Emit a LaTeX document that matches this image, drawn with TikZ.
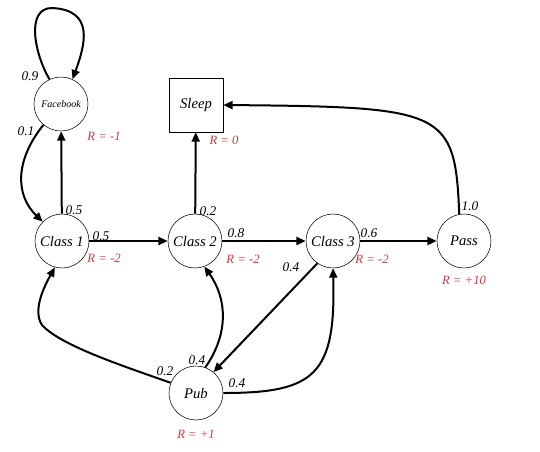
\documentclass[tikz,border=0pt]{standalone}
\usepackage{fontspec}
\setmainfont{Liberation Serif}
\usetikzlibrary{arrows.meta}
\definecolor{rred}{RGB}{200,60,60}
\begin{document}
\begin{tikzpicture}[x=0.75pt,y=-0.75pt,
  state/.style={circle,draw,thin,minimum size=40.5pt,inner sep=0pt,font=\fontsize{11}{13}\selectfont\itshape},
  sq/.style={rectangle,draw,thin,minimum size=40.5pt,inner sep=0pt,font=\fontsize{11}{13}\selectfont\itshape},
  arr/.style={line width=1.5pt,-{Triangle[length=7pt,width=6pt]}},
  prob/.style={font=\fontsize{10}{12}\selectfont\itshape,inner sep=0pt},
  rew/.style={font=\fontsize{9.5}{11}\selectfont\itshape,text=rred,inner sep=0pt}]
\useasboundingbox (0,0) rectangle (540,451);
\node[state,font=\fontsize{7.5}{9}\selectfont\itshape] (fb) at (61,104) {Facebook};
\node[sq] (sleep) at (196,105) {Sleep};
\node[state] (c1) at (62,241) {Class 1};
\node[state] (c2) at (195,241) {Class 2};
\node[state] (c3) at (333,241) {Class 3};
\node[state] (pass) at (464,241) {Pass};
\node[state] (pub) at (196,393) {Pub};
% edges
\draw[arr] (fb.115) .. controls (35,55) and (25,8) .. (52,8) .. controls (95,10) and (85,45) .. (fb.65);
\draw[arr] (fb.230) .. controls (15,160) and (15,195) .. (c1.135);
\draw[arr] (c1) -- (fb);
\draw[arr] (c1) -- (c2);
\draw[arr] (c2) -- (sleep);
\draw[arr] (c2) -- (c3);
\draw[arr] (c3) -- (pass);
\draw[arr] (c3.235) -- (pub.50);
\draw[arr] (pass.100) .. controls (455,110) and (445,107) .. (sleep.east);
\draw[arr] (pub.158) .. controls (120,365) and (60,345) .. (42,325) .. controls (32,310) and (45,285) .. (c1.255);
\draw[arr] (pub.70) .. controls (228,335) and (228,300) .. (c2.290);
\draw[arr] (pub.east) .. controls (315,393) and (336,375) .. (c3.270);
% probabilities
\node[prob] (p1) at (30,76) {0.9};
\node[prob] (p2) at (26,131) {0.1};
\node[prob] (p3) at (74,210) {0.5};
\node[prob] (p4) at (101,236) {0.5};
\node[prob] (p5) at (208,211) {0.2};
\node[prob] (p6) at (236,233) {0.8};
\node[prob] (p7) at (369,233) {0.6};
\node[prob] (p8) at (291,267) {0.4};
\node[prob] (p9) at (470,206) {1.0};
\node[prob] (p10) at (165,371) {0.2};
\node[prob] (p11) at (197,360) {0.4};
\node[prob] (p12) at (237,383) {0.4};
% rewards
\node[rew] (r1) at (104,136) {R = -1};
\node[rew] (r2) at (104,258) {R = -2};
\node[rew] (r3) at (243,259) {R = -2};
\node[rew] (r4) at (224,140) {R = 0};
\node[rew] (r5) at (372,259) {R = -2};
\node[rew] (r6) at (464,280) {R = +10};
\node[rew] (r7) at (196,434) {R = +1};
\end{tikzpicture}
\end{document}
